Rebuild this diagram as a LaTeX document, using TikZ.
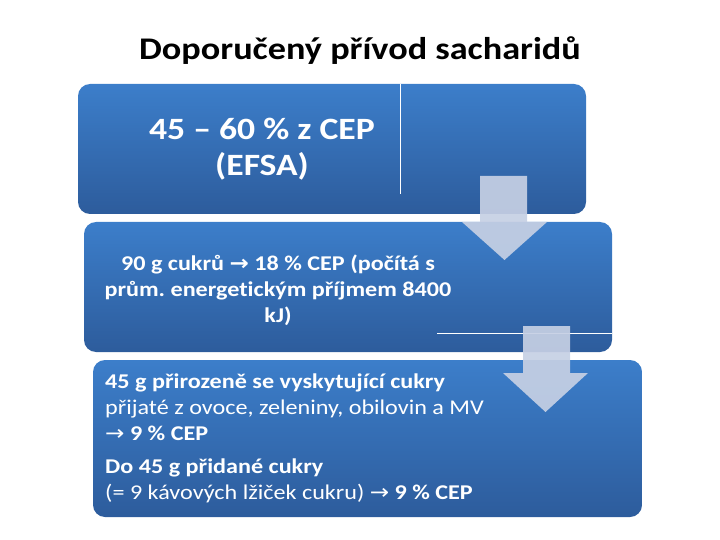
\documentclass[tikz,border=0pt]{standalone}
\usepackage{fontspec}
\setmainfont[FakeStretch=1.15, Ligatures=NoCommon]{Carlito}
\newfontfamily\arrowfont[FakeStretch=1.1]{DejaVu Sans}
\usetikzlibrary{shadings}
\definecolor{boxtop}{RGB}{60,126,202}
\definecolor{boxbot}{RGB}{45,92,156}
\definecolor{arrowfill}{RGB}{198,208,228}
\tikzset{
  bluebox/.style={rectangle, rounded corners=12pt, top color=boxtop, bottom color=boxbot, draw=none, inner sep=0pt},
  blockarrow/.style={fill=arrowfill, fill opacity=0.92, draw=none},
  whiteline/.style={draw=white, line width=0.8pt},
  titletext/.style={font=\fontsize{31.5}{34}\selectfont\bfseries, text=black, inner sep=0pt},
  bigtext/.style={font=\fontsize{31}{34}\selectfont\bfseries, text=white, inner sep=0pt},
  midtext/.style={font=\fontsize{21}{26}\selectfont\bfseries, text=white, inner sep=0pt},
  smalltext/.style={font=\fontsize{21}{26}\selectfont, text=white, inner sep=0pt, anchor=base west},
}
\newcommand{\ra}{{\arrowfont\char"2192}}
\begin{document}
\frenchspacing
\begin{tikzpicture}[x=1pt,y=-1pt]
\useasboundingbox (0,0) rectangle (720,540);
% title
\node[titletext, anchor=base] (title) at (360,60) {Doporučený přívod sacharidů};
% boxes
\node[bluebox, minimum width=508pt, minimum height=130pt] (b1) at (332,149) {};
\node[bluebox, minimum width=528pt, minimum height=130pt] (b2) at (348,287) {};
\node[bluebox, minimum width=549pt, minimum height=157pt] (b3) at (367.5,438.5) {};
% artefact lines
\coordinate (v1) at (400,84);
\coordinate (v2) at (400,194);
\draw[whiteline] (v1) -- (v2);
\coordinate (h1) at (437,333);
\coordinate (h2) at (612,333);
\draw[whiteline] (h1) -- (h2);
% block arrows
\path[blockarrow] (480,176) -- (527,176) -- (527,222) -- (547,222) -- (504.5,260) -- (462,222) -- (480,222) -- cycle;
\path[blockarrow] (523,326) -- (570,326) -- (570,373) -- (588,373) -- (545.5,412) -- (503,373) -- (523,373) -- cycle;
% box 1 text
\node[bigtext, anchor=base] (t1a) at (262,140) {45 – 60 \% z CEP};
\node[bigtext, anchor=base] (t1b) at (262,176) {(EFSA)};
% box 2 text
\node[midtext, anchor=base] (t2a) at (278,270) {90 g cukrů \ra{} 18 \% CEP (počítá s};
\node[midtext, anchor=base] (t2b) at (278,296) {prům. energetickým příjmem 8400};
\node[midtext, anchor=base] (t2c) at (278,322) {kJ)};
% box 3 text
\node[smalltext] (t3a) at (105,388) {\bfseries 45 g přirozeně se vyskytující cukry};
\node[smalltext] (t3b) at (105,414) {přijaté z ovoce, zeleniny, obilovin a MV};
\node[smalltext] (t3c) at (105,440) {\ra{} \bfseries 9 \% CEP};
\node[smalltext] (t3d) at (105,473) {\bfseries Do 45 g přidané cukry};
\node[smalltext] (t3e) at (105,499) {(= 9 kávových lžiček cukru) \ra{} \bfseries 9 \% CEP};
\end{tikzpicture}
\end{document}
